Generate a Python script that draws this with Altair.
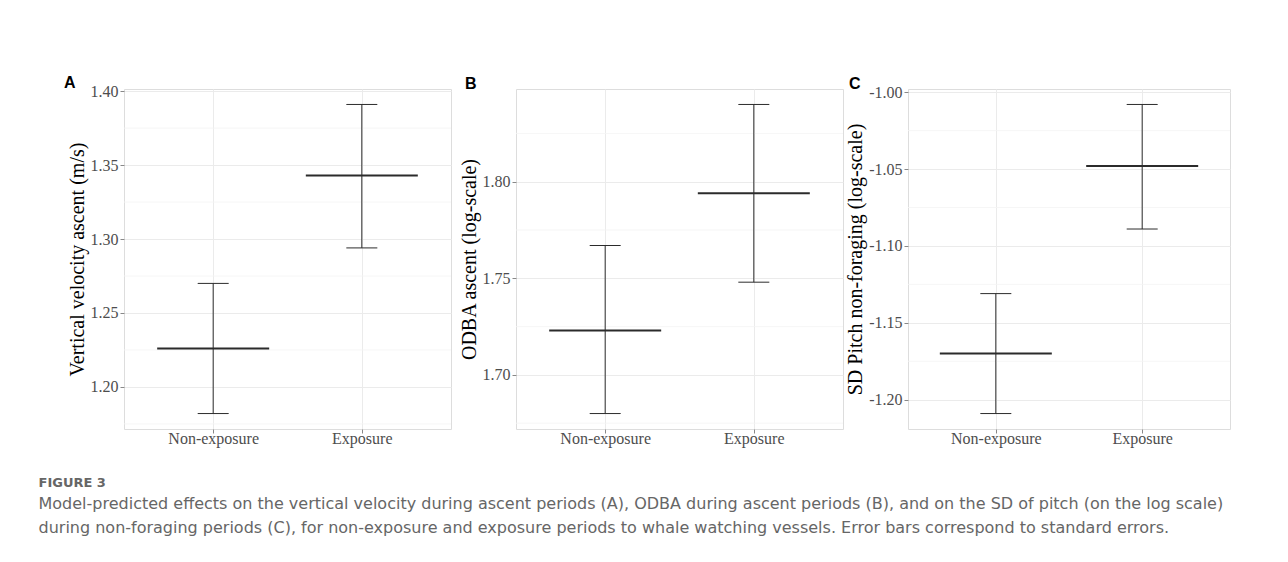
import altair as alt
import pandas as pd

categories = ["Non-exposure", "Exposure"]

a_mean = [1.226, 1.343]
a_lower = [1.182, 1.294]
a_upper = [1.270, 1.391]
a_ticks = [1.20, 1.25, 1.30, 1.35, 1.40]
a_minor = [1.175, 1.225, 1.275, 1.325, 1.375]

b_mean = [1.723, 1.794]
b_lower = [1.680, 1.748]
b_upper = [1.767, 1.840]
b_ticks = [1.70, 1.75, 1.80]
b_minor = [1.675, 1.725, 1.775, 1.825]

c_mean = [-1.170, -1.048]
c_lower = [-1.209, -1.089]
c_upper = [-1.131, -1.008]
c_ticks = [-1.20, -1.15, -1.10, -1.05, -1.00]
c_minor = [-1.175, -1.125, -1.075, -1.025]

caption_title = "FIGURE 3"
caption_lines = [
    "Model-predicted effects on the vertical velocity during ascent periods (A), ODBA during ascent periods (B), and on the SD of pitch (on the log scale)",
    "during non-foraging periods (C), for non-exposure and exposure periods to whale watching vessels. Error bars correspond to standard errors.",
]

SERIF = "Liberation Serif"
INK = "#2b2b2b"


def panel(letter, ytitle, mean, lower, upper, ticks, minor, width, dx, dy):
    df = pd.DataFrame({"group": categories, "mean": mean, "lower": lower, "upper": upper})
    lo, hi = min(lower), max(upper)
    pad = (hi - lo) * 0.05
    yscale = alt.Scale(domain=[lo - pad, hi + pad], nice=False, zero=False)
    yaxis = alt.Axis(
        title=ytitle, values=ticks,
        labelExpr="replace(format(datum.value, '.2f'), '\u2212', '-')",
        grid=True, gridColor="#ebebeb", gridWidth=1,
        tickSize=4, tickColor="#888888", labelPadding=2, titlePadding=3,
        labelFont=SERIF, labelFontSize=16, labelColor="#4d4d4d",
        titleFont=SERIF, titleFontSize=20, titleFontWeight="normal", titleColor="black",
        domain=False,
    )
    xenc = alt.X(
        "group:N", sort=categories,
        scale=alt.Scale(type="point", padding=0.6),
        axis=alt.Axis(
            title=None, labelAngle=0, grid=True, gridColor="#ebebeb",
            tickSize=4, tickColor="#888888", labelPadding=-3,
            labelFont=SERIF, labelFontSize=16, labelColor="#4d4d4d", domain=False,
        ),
    )
    minor_df = pd.DataFrame({"mean": minor})
    grid = alt.Chart(minor_df).mark_rule(color="#f4f4f4", strokeWidth=0.8).encode(
        y=alt.Y("mean:Q", scale=yscale, axis=yaxis)
    )
    base = alt.Chart(df)
    bar = base.mark_rule(color=INK, strokeWidth=1).encode(
        x=xenc, y=alt.Y("lower:Q", scale=yscale, axis=yaxis), y2="upper:Q"
    )
    cap_lo = base.mark_tick(color=INK, size=31, thickness=1, opacity=1).encode(
        x=xenc, y=alt.Y("lower:Q", scale=yscale, axis=yaxis)
    )
    cap_hi = base.mark_tick(color=INK, size=31, thickness=1, opacity=1).encode(
        x=xenc, y=alt.Y("upper:Q", scale=yscale, axis=yaxis)
    )
    mid = base.mark_tick(color=INK, size=112, thickness=2, opacity=1).encode(
        x=xenc, y=alt.Y("mean:Q", scale=yscale, axis=yaxis)
    )
    return alt.layer(grid, bar, cap_lo, cap_hi, mid).properties(
        width=width, height=340,
        title=alt.TitleParams(
            text=letter, anchor="start", frame="group", dx=dx, dy=dy, offset=0,
            font="Liberation Sans", fontSize=16, fontWeight="bold", color="black",
        ),
    )


pA = panel("A", "Vertical velocity ascent (m/s)", a_mean, a_lower, a_upper, a_ticks, a_minor, 327, -60, 8)
pB = panel("B", "ODBA ascent (log-scale)", b_mean, b_lower, b_upper, b_ticks, b_minor, 327, -51, 3)
pC = panel("C", "SD Pitch non-foraging (log-scale)", c_mean, c_lower, c_upper, c_ticks, c_minor, 322, -59, 8)

chart = alt.hconcat(pA, pB, pC, spacing=65, bounds="flush").properties(
    padding={"left": 30, "top": 66, "right": 0, "bottom": 0},
    title=alt.TitleParams(
        text=caption_title, subtitle=caption_lines, orient="bottom", anchor="start",
        frame="bounds", dx=-25, offset=30,
        font="DejaVu Sans", fontSize=13, fontWeight=600, color="#666666",
        subtitleFont="DejaVu Sans", subtitleFontSize=16, subtitleColor="#666666",
        subtitleLineHeight=24, subtitlePadding=6,
    ),
).configure_view(stroke="#888888", strokeWidth=1).configure(background="white")

chart.save("out.html", embed_options={"renderer": "svg", "actions": False})
